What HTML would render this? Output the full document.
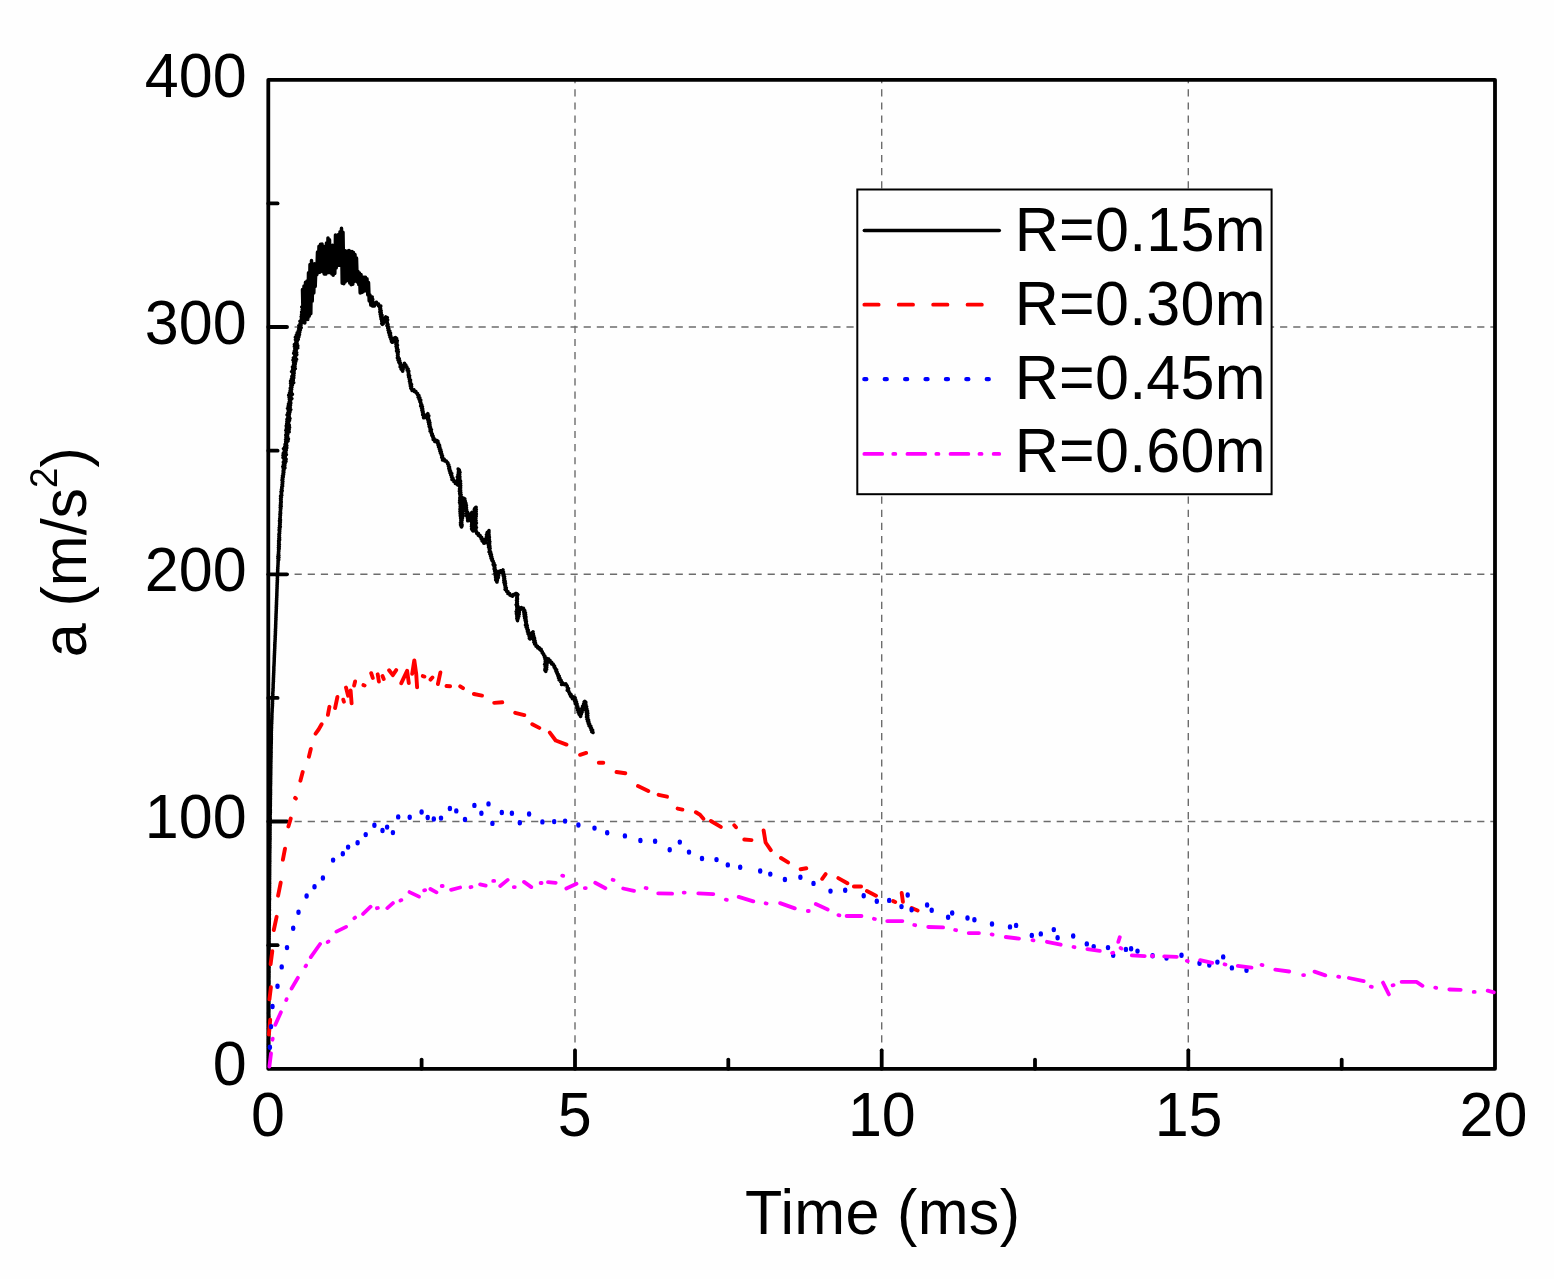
<!DOCTYPE html>
<html><head><meta charset="utf-8"><title>a vs Time</title>
<style>html,body{margin:0;padding:0;background:#fefefe;}svg{display:block;}</style>
</head><body>
<svg width="1554" height="1279" viewBox="0 0 1554 1279">
<rect width="1554" height="1279" fill="#fefefe"/>
<line x1="575.0" y1="1068.8" x2="575.0" y2="79.8" stroke="#6c6c6c" stroke-width="1.4" stroke-dasharray="7.2 5.94"/>
<line x1="881.7" y1="1068.8" x2="881.7" y2="79.8" stroke="#6c6c6c" stroke-width="1.4" stroke-dasharray="7.2 5.94"/>
<line x1="1188.3" y1="1068.8" x2="1188.3" y2="79.8" stroke="#6c6c6c" stroke-width="1.4" stroke-dasharray="7.2 5.94"/>
<line x1="268.3" y1="821.5" x2="1495.0" y2="821.5" stroke="#6c6c6c" stroke-width="1.4" stroke-dasharray="7.2 5.94"/>
<line x1="268.3" y1="574.3" x2="1495.0" y2="574.3" stroke="#6c6c6c" stroke-width="1.4" stroke-dasharray="7.2 5.94"/>
<line x1="268.3" y1="327.0" x2="1495.0" y2="327.0" stroke="#6c6c6c" stroke-width="1.4" stroke-dasharray="7.2 5.94"/>
<rect x="268.3" y="79.8" width="1226.7" height="989.0" fill="none" stroke="#000" stroke-width="3.8" stroke-linejoin="round"/>
<line x1="421.6" y1="1068.8" x2="421.6" y2="1059.6" stroke="#000" stroke-width="3.8" stroke-linecap="round"/>
<line x1="575.0" y1="1068.8" x2="575.0" y2="1050.3" stroke="#000" stroke-width="3.8" stroke-linecap="round"/>
<line x1="728.3" y1="1068.8" x2="728.3" y2="1059.6" stroke="#000" stroke-width="3.8" stroke-linecap="round"/>
<line x1="881.7" y1="1068.8" x2="881.7" y2="1050.3" stroke="#000" stroke-width="3.8" stroke-linecap="round"/>
<line x1="1035.0" y1="1068.8" x2="1035.0" y2="1059.6" stroke="#000" stroke-width="3.8" stroke-linecap="round"/>
<line x1="1188.3" y1="1068.8" x2="1188.3" y2="1050.3" stroke="#000" stroke-width="3.8" stroke-linecap="round"/>
<line x1="1341.7" y1="1068.8" x2="1341.7" y2="1059.6" stroke="#000" stroke-width="3.8" stroke-linecap="round"/>
<line x1="268.3" y1="945.2" x2="277.6" y2="945.2" stroke="#000" stroke-width="3.8" stroke-linecap="round"/>
<line x1="268.3" y1="821.5" x2="287.0" y2="821.5" stroke="#000" stroke-width="3.8" stroke-linecap="round"/>
<line x1="268.3" y1="697.9" x2="277.6" y2="697.9" stroke="#000" stroke-width="3.8" stroke-linecap="round"/>
<line x1="268.3" y1="574.3" x2="287.0" y2="574.3" stroke="#000" stroke-width="3.8" stroke-linecap="round"/>
<line x1="268.3" y1="450.7" x2="277.6" y2="450.7" stroke="#000" stroke-width="3.8" stroke-linecap="round"/>
<line x1="268.3" y1="327.0" x2="287.0" y2="327.0" stroke="#000" stroke-width="3.8" stroke-linecap="round"/>
<line x1="268.3" y1="203.4" x2="277.6" y2="203.4" stroke="#000" stroke-width="3.8" stroke-linecap="round"/>
<polyline points="268.5,1068.5 268.7,1067.4 268.5,1066.3 268.6,1065.2 268.5,1064.1 268.7,1063.0 268.6,1061.9 268.7,1060.7 268.6,1059.6 268.7,1058.5 268.6,1057.4 268.7,1056.3 268.6,1055.2 268.8,1054.1 268.6,1053.0 268.7,1051.9 268.6,1050.8 268.8,1049.7 268.6,1048.6 268.7,1047.5 268.5,1046.3 268.7,1045.2 268.5,1044.1 268.8,1043.0 268.6,1041.9 268.7,1040.8 268.6,1039.7 268.8,1038.6 268.7,1037.5 268.8,1036.4 268.6,1035.3 268.8,1034.2 268.6,1033.1 268.8,1032.0 268.7,1030.8 268.8,1029.7 268.6,1028.6 268.8,1027.5 268.7,1026.4 268.8,1025.3 268.7,1024.2 268.8,1023.1 268.6,1022.0 268.9,1020.9 268.7,1019.8 268.9,1018.7 268.7,1017.6 268.9,1016.4 268.7,1015.3 268.8,1014.2 268.6,1013.1 268.8,1012.0 268.7,1010.9 268.9,1009.8 268.8,1008.7 268.9,1007.6 268.8,1006.5 268.9,1005.4 268.7,1004.3 268.9,1003.2 268.7,1002.1 268.9,1000.9 268.7,999.8 268.9,998.7 268.7,997.6 268.9,996.5 268.7,995.4 269.0,994.3 268.8,993.2 269.0,992.1 268.8,991.0 269.0,989.9 268.8,988.8 269.0,987.7 268.7,986.5 268.9,985.4 268.8,984.3 269.0,983.2 268.9,982.1 269.0,981.0 268.8,979.9 268.9,978.8 268.9,977.7 269.0,976.6 268.9,975.5 269.0,974.4 268.8,973.3 269.1,972.1 268.9,971.0 269.0,969.9 268.8,968.8 269.1,967.7 268.8,966.6 269.1,965.5 268.9,964.4 269.0,963.3 268.9,962.2 269.1,961.1 268.8,960.0 269.0,958.9 268.9,957.8 269.0,956.6 268.9,955.5 269.1,954.4 268.9,953.3 269.1,952.2 269.0,951.1 269.1,950.0 268.9,948.9 269.1,947.8 268.9,946.7 269.1,945.6 269.0,944.4 269.2,943.3 269.0,942.2 269.1,941.1 268.9,940.0 269.2,938.9 269.0,937.8 269.2,936.7 269.0,935.6 269.2,934.4 269.1,933.3 269.2,932.2 269.1,931.1 269.2,930.0 269.1,928.9 269.2,927.8 269.1,926.7 269.2,925.6 269.2,924.4 269.3,923.3 269.2,922.2 269.3,921.1 269.2,920.0 269.4,918.9 269.2,917.8 269.3,916.7 269.2,915.6 269.4,914.4 269.2,913.3 269.3,912.2 269.2,911.1 269.5,910.0 269.2,908.9 269.4,907.8 269.3,906.7 269.4,905.6 269.3,904.4 269.4,903.3 269.3,902.2 269.4,901.1 269.4,900.0 269.6,898.9 269.3,897.8 269.5,896.7 269.3,895.6 269.5,894.4 269.4,893.3 269.6,892.2 269.3,891.1 269.6,890.0 269.4,888.9 269.6,887.8 269.5,886.7 269.6,885.6 269.4,884.4 269.7,883.3 269.5,882.2 269.6,881.1 269.4,880.0 269.7,878.9 269.4,877.8 269.7,876.7 269.5,875.6 269.7,874.4 269.6,873.3 269.7,872.2 269.6,871.1 269.7,870.0 269.6,868.9 269.7,867.8 269.6,866.7 269.8,865.6 269.5,864.4 269.8,863.3 269.6,862.2 269.9,861.1 269.6,860.0 269.8,858.9 269.7,857.8 269.8,856.7 269.7,855.6 269.8,854.4 269.7,853.3 269.9,852.2 269.7,851.1 269.9,850.0 269.7,848.9 270.0,847.8 269.8,846.7 270.0,845.6 269.7,844.4 270.0,843.3 269.8,842.2 270.0,841.1 269.9,840.0 270.1,838.9 269.9,837.8 270.1,836.7 269.8,835.6 270.1,834.4 269.9,833.3 270.1,832.2 269.9,831.1 270.1,830.0 270.0,828.9 270.1,827.8 269.9,826.7 270.2,825.6 270.0,824.4 270.2,823.3 270.0,822.2 270.2,821.1 270.1,820.0 270.3,818.9 270.1,817.8 270.2,816.7 270.0,815.6 270.3,814.4 270.1,813.3 270.4,812.2 270.2,811.1 270.4,810.0 270.1,808.9 270.3,807.8 270.2,806.7 270.4,805.6 270.3,804.4 270.4,803.3 270.3,802.2 270.4,801.1 270.3,800.0 270.5,798.9 270.3,797.8 270.5,796.7 270.3,795.6 270.6,794.4 270.4,793.3 270.6,792.2 270.4,791.1 270.6,790.0 270.4,788.9 270.5,787.8 270.4,786.7 270.6,785.6 270.5,784.4 270.7,783.3 270.5,782.2 270.7,781.1 270.5,780.0 270.7,778.9 270.6,777.8 270.7,776.7 270.6,775.6 270.8,774.5 270.7,773.3 270.8,772.2 270.7,771.1 270.8,770.0 270.7,768.9 270.9,767.8 270.7,766.7 270.9,765.6 270.7,764.5 270.9,763.4 270.8,762.3 271.0,761.2 270.8,760.0 271.0,758.9 270.9,757.8 271.1,756.7 270.9,755.6 271.1,754.5 270.9,753.4 271.2,752.3 270.9,751.2 271.1,750.1 271.0,749.0 271.2,747.9 271.0,746.7 271.2,745.6 271.1,744.5 271.3,743.4 271.2,742.3 271.3,741.2 271.2,740.1 271.4,739.0 271.1,737.9 271.4,736.8 271.2,735.7 271.4,734.5 271.2,733.4 271.4,732.3 271.2,731.2 271.5,730.1 271.3,729.0 271.6,727.9 271.4,726.8 271.6,725.7 271.4,724.5 271.8,723.4 271.6,722.3 271.8,721.2 271.7,720.1 271.9,719.0 271.8,717.9 272.0,716.8 271.8,715.7 272.0,714.6 271.9,713.4 272.1,712.3 272.1,711.2 272.2,710.1 272.1,709.0 272.3,707.9 272.3,706.8 272.5,705.7 272.3,704.6 272.6,703.5 272.4,702.3 272.6,701.2 272.5,700.1 272.7,699.0 272.6,697.9 272.7,696.8 272.7,695.7 272.9,694.6 272.7,693.4 272.9,692.3 272.9,691.2 273.1,690.1 272.9,689.0 273.2,687.9 273.1,686.8 273.2,685.7 273.1,684.6 273.3,683.5 273.2,682.4 273.5,681.3 273.3,680.2 273.5,679.1 273.4,678.0 273.6,676.9 273.5,675.8 273.7,674.7 273.6,673.6 273.8,672.5 273.7,671.4 273.9,670.3 273.8,669.2 273.9,668.1 273.8,667.0 274.0,665.9 274.0,664.8 274.1,663.7 274.1,662.5 274.2,661.5 274.2,660.3 274.3,659.2 274.2,658.1 274.4,657.0 274.3,655.9 274.5,654.8 274.4,653.7 274.6,652.6 274.5,651.5 274.7,650.4 274.6,649.3 274.8,648.2 274.7,647.1 274.9,646.0 274.7,644.9 275.0,643.8 274.8,642.7 275.1,641.6 275.0,640.5 275.2,639.4 275.1,638.3 275.3,637.2 275.1,636.1 275.4,635.0 275.3,633.9 275.5,632.8 275.3,631.7 275.6,630.6 275.4,629.5 275.6,628.4 275.6,627.2 275.7,626.1 275.6,625.0 275.8,623.9 275.7,622.8 275.8,621.7 275.8,620.6 276.0,619.5 275.8,618.4 276.1,617.3 275.9,616.2 276.1,615.1 276.0,614.0 276.2,612.9 276.1,611.7 276.3,610.6 276.2,609.5 276.4,608.4 276.2,607.3 276.5,606.2 276.3,605.1 276.6,604.0 276.4,602.9 276.6,601.8 276.5,600.7 276.7,599.6 276.6,598.5 276.8,597.4 276.7,596.2 276.9,595.1 276.8,594.0 276.9,592.9 276.9,591.8 277.0,590.7 276.9,589.6 277.1,588.5 277.0,587.4 277.2,586.3 277.0,585.2 277.3,584.1 277.1,583.0 277.4,581.9 277.2,580.7 277.5,579.6 277.3,578.5 277.5,577.4 277.3,576.3 277.6,575.2 277.4,574.1 277.7,573.0 277.6,571.9 277.8,570.8 277.6,569.7 277.9,568.6 277.7,567.5 278.0,566.4 277.9,565.3 278.1,564.2 278.0,563.1 278.2,562.0 278.0,560.9 278.7,559.8 277.9,558.6 278.9,557.6 277.9,556.4 278.9,555.4 278.2,554.2 278.7,553.2 278.4,552.0 278.9,551.0 278.5,549.8 279.2,548.8 278.4,547.6 279.3,546.6 278.5,545.4 279.4,544.4 278.6,543.2 279.2,542.1 278.6,541.0 279.6,539.9 278.8,538.8 279.6,537.7 278.9,536.6 279.5,535.5 278.9,534.4 279.7,533.3 279.3,532.2 279.8,531.1 279.1,530.0 279.9,528.9 279.2,527.7 280.3,526.7 279.5,525.5 280.2,524.4 279.6,523.2 280.4,522.1 279.5,521.0 280.5,519.9 279.7,518.7 280.3,517.6 280.0,516.5 280.5,515.4 279.9,514.2 280.7,513.1 280.1,512.0 280.6,510.9 280.4,509.7 280.9,508.6 280.2,507.5 281.2,506.4 280.3,505.2 281.1,504.1 280.5,503.0 281.3,501.9 280.6,500.7 281.2,499.6 280.5,498.5 281.4,497.4 280.6,496.2 281.8,495.2 281.2,494.0 281.7,492.9 281.0,491.7 282.2,490.6 281.4,489.4 282.1,488.3 281.7,487.1 282.6,486.1 282.0,484.8 282.7,483.8 282.2,482.6 282.9,481.5 282.0,480.2 282.9,479.2 282.3,478.0 283.3,476.9 282.5,475.7 283.6,474.6 283.0,473.4 283.9,472.3 283.1,471.1 284.0,470.0 283.3,468.9 284.9,467.9 282.8,466.6 284.8,465.6 283.5,464.4 285.1,463.4 283.4,462.1 286.0,461.3 284.1,460.0 286.1,459.0 283.0,457.6 285.3,456.7 283.0,455.4 286.4,454.6 283.3,453.2 285.9,452.3 284.3,451.0 286.3,450.1 283.5,448.6 286.8,447.9 284.8,446.5 286.8,445.5 285.1,444.2 286.5,443.2 285.7,441.9 288.0,441.0 285.6,439.6 288.4,438.8 286.0,437.3 287.6,436.4 285.8,435.0 287.8,434.1 286.3,432.8 289.2,431.9 285.8,430.4 289.2,429.6 286.4,428.1 289.6,427.3 286.2,425.9 289.3,425.0 286.7,423.7 288.7,422.7 286.9,421.5 289.5,420.6 287.0,419.3 290.0,418.4 287.9,417.1 289.2,416.1 287.1,414.9 289.5,413.9 287.9,412.7 290.0,411.8 288.4,410.5 290.8,409.6 287.5,408.3 290.2,407.4 288.2,406.1 290.5,405.2 288.5,403.9 290.8,403.0 289.3,401.8 290.6,400.7 289.4,399.5 291.9,398.6 289.1,397.3 291.1,396.4 288.7,395.1 292.4,394.2 289.5,392.9 291.3,391.9 290.2,390.5 291.6,389.5 290.3,388.2 291.9,387.2 290.8,385.8 292.4,384.8 290.6,383.4 293.7,382.6 290.6,381.0 293.3,380.1 291.5,378.7 293.8,377.8 291.9,376.4 293.9,375.5 292.7,374.1 294.1,373.1 291.6,371.6 294.2,370.7 292.7,369.3 295.3,368.5 292.5,366.9 295.0,366.1 293.6,364.8 295.3,363.8 293.6,362.5 295.8,361.5 293.0,360.1 296.6,359.3 293.4,357.8 295.6,356.9 294.8,355.7 296.8,354.7 293.7,353.3 296.7,352.4 294.4,351.0 296.2,350.0 294.9,348.8 297.8,347.9 294.4,346.5 297.8,345.7 294.4,344.3 297.1,343.4 295.9,342.2 297.1,341.2 295.5,339.7 298.3,339.2 295.4,337.2 298.9,336.8 296.4,335.0 299.5,334.5 297.3,332.7 299.8,332.1 298.4,330.6 300.4,329.8 298.8,328.2 301.2,327.5 298.9,325.7 301.0,325.0 300.1,323.6 301.5,322.7 300.0,321.2 302.6,320.6 301.3,319.0 302.4,318.1 301.2,316.7 303.4,315.7 301.6,314.3 303.2,313.3 301.7,311.9 303.2,310.8 302.3,309.5 304.1,308.5 301.8,307.0 303.5,306.0 302.5,289.5 303.2,322.4 304.0,286.0 304.8,323.0 305.5,282.3 306.2,318.8 307.0,280.9 307.8,319.4 308.5,272.8 309.2,316.3 310.0,264.5 310.8,313.8 311.5,260.5 312.2,301.1 313.0,265.0 313.8,293.0 314.5,263.7 315.2,286.5 316.0,265.1 316.8,274.8 317.5,252.1 318.2,272.7 319.0,246.3 319.8,272.2 320.5,244.3 321.2,270.7 322.0,243.9 322.8,271.8 323.5,246.3 324.2,274.0 325.0,248.2 325.8,274.1 326.5,242.9 327.2,272.6 328.0,237.9 328.8,272.6 329.5,239.7 330.2,271.2 331.0,245.8 331.8,274.0 332.5,245.2 333.2,275.3 334.0,247.4 334.8,273.4 335.5,234.9 336.2,268.0 337.0,235.4 337.8,265.3 338.5,234.6 339.2,265.3 340.0,231.7 340.8,264.3 341.5,228.2 342.2,283.3 343.0,232.3 343.8,283.8 344.5,250.5 345.2,281.9 346.0,251.3 346.8,279.4 347.5,251.2 348.2,280.6 349.0,250.4 349.8,283.1 350.5,251.4 351.2,284.7 352.0,251.5 352.8,284.3 353.5,252.5 354.2,281.5 355.0,254.6 355.8,280.3 356.5,258.0 357.2,282.0 358.0,271.4 358.8,284.6 359.5,273.1 360.2,292.9 361.0,274.4 361.8,292.4 362.5,276.9 363.2,291.7 364.0,277.3 364.8,289.3 365.5,277.3 366.2,291.0 367.0,278.8 367.8,294.9 368.5,282.5 369.2,301.0 370.0,295.1 370.8,305.1 372.2,297.0 371.1,298.3 372.7,299.3 371.8,300.6 373.0,301.7 372.1,303.0 373.0,304.1 372.6,305.3 372.3,306.0 374.4,306.0 374.1,304.0 376.1,303.9 376.4,302.2 376.9,303.5 378.5,303.9 378.4,305.8 380.8,306.1 379.6,307.4 380.6,308.4 379.9,309.7 381.1,310.7 379.9,312.0 381.2,313.0 380.3,314.3 382.0,315.2 380.7,316.6 382.3,317.5 381.1,318.9 382.3,319.9 381.7,321.1 382.7,322.1 381.7,323.5 382.4,324.4 383.4,323.5 383.0,322.0 384.5,321.4 384.5,320.0 385.4,319.1 385.2,317.7 385.8,316.9 387.3,317.8 385.8,319.1 387.6,320.0 386.6,321.3 387.3,322.3 387.0,323.4 388.0,324.4 387.0,325.7 388.3,326.6 387.7,327.9 388.8,328.8 388.1,330.2 389.7,331.0 388.7,332.5 390.5,333.2 389.4,334.8 390.7,335.6 390.0,337.1 391.5,337.9 390.9,339.3 392.2,340.1 391.5,341.6 392.2,342.3 393.5,341.7 393.6,340.3 394.9,339.6 394.7,337.9 395.5,337.5 396.6,338.5 395.8,339.7 397.3,340.7 396.0,341.9 397.0,343.0 396.0,344.2 397.5,345.2 396.1,346.5 397.3,347.5 396.6,348.7 398.0,349.7 396.6,351.0 398.3,351.9 397.4,353.1 398.1,354.2 397.5,355.4 398.2,356.4 397.4,357.9 399.2,358.6 398.1,360.1 399.7,360.9 398.9,362.4 400.5,363.1 400.0,364.5 401.4,365.3 400.2,366.9 401.6,367.7 401.1,369.1 402.7,369.9 402.7,371.3 402.2,370.0 403.2,369.0 402.9,367.8 403.8,366.8 403.1,365.5 404.6,364.7 404.5,363.2 404.6,364.5 405.8,365.1 405.4,366.6 406.9,367.0 406.9,368.4 408.1,369.0 407.3,370.3 408.8,371.2 408.2,372.5 408.8,373.5 408.3,374.8 409.6,375.7 408.6,377.0 409.6,378.0 409.3,379.2 410.5,380.1 409.5,381.5 410.6,382.4 410.0,383.7 411.5,384.6 410.4,385.9 411.6,386.9 410.8,388.2 411.7,388.8 412.1,390.5 414.0,389.8 414.4,391.6 415.9,391.6 416.1,392.8 417.6,393.5 417.5,394.8 418.9,395.6 418.1,397.2 419.8,397.8 419.1,399.4 420.7,400.1 419.9,401.6 420.9,402.5 420.7,403.7 421.7,404.7 420.7,406.0 422.4,406.8 421.6,408.2 422.7,409.1 421.9,410.4 423.1,411.3 422.5,412.6 423.4,413.5 422.7,414.8 424.3,415.6 423.5,417.0 423.6,417.7 425.5,417.4 425.1,415.3 426.9,415.1 427.8,413.7 426.9,415.1 428.8,415.9 427.7,417.3 428.6,418.3 427.8,419.7 429.3,420.6 428.3,422.0 429.9,422.8 428.8,424.2 430.0,425.2 429.2,426.5 430.5,427.5 430.0,428.8 431.4,429.7 430.1,431.1 431.4,432.0 431.2,433.3 432.3,434.0 431.8,435.4 433.1,436.1 432.8,437.4 433.8,438.2 433.2,439.6 435.1,440.1 434.8,441.6 435.8,440.3 436.7,440.5 437.9,441.3 437.2,442.6 438.6,443.4 438.0,444.7 439.5,445.4 438.6,446.8 439.9,447.6 439.3,448.9 440.7,449.7 439.9,451.0 441.3,451.8 440.5,453.2 441.8,454.0 441.4,455.2 442.5,456.0 441.7,457.4 442.8,458.2 442.5,460.0 444.3,459.3 444.8,461.0 446.3,460.9 446.8,462.0 447.9,462.8 447.7,464.0 448.8,464.9 448.4,466.2 449.5,467.1 448.8,468.5 449.9,469.3 449.4,470.6 450.6,471.5 450.0,472.8 451.7,473.5 450.8,474.9 451.9,475.8 451.5,477.1 452.8,477.9 452.0,479.6 453.7,479.9 453.7,481.6 455.8,481.5 455.4,483.5 457.3,483.5 457.8,485.0 456.7,483.8 458.2,482.8 457.0,481.5 458.8,480.5 457.7,479.3 458.9,478.2 457.4,476.9 458.6,475.9 458.0,474.7 459.3,473.6 458.4,472.4 459.6,471.4 458.5,470.1 458.2,469.0 459.3,470.1 458.6,471.3 460.0,472.3 458.9,473.5 459.7,474.6 458.8,475.7 459.9,476.8 459.3,477.9 459.9,479.0 459.3,480.2 460.5,481.2 459.1,482.4 460.6,483.5 459.6,484.6 460.7,485.7 459.7,486.9 460.6,487.9 459.5,489.1 460.6,490.2 459.4,491.3 460.8,492.4 459.7,493.6 461.1,494.6 460.1,495.8 461.3,496.9 459.8,498.0 460.9,499.1 459.7,500.3 460.9,501.3 459.6,502.5 461.2,503.6 460.2,504.7 461.4,505.8 460.2,506.9 461.0,508.0 460.0,509.2 461.0,510.3 460.0,511.4 461.2,512.5 460.2,513.6 461.8,514.7 460.3,515.9 461.6,516.9 460.6,518.1 461.2,519.2 460.8,520.3 461.3,521.4 460.5,522.6 461.6,523.6 460.6,524.8 462.0,525.9 461.5,527.0 461.0,525.8 462.1,524.8 461.4,523.6 461.8,522.6 461.3,521.4 462.1,520.3 461.6,519.1 462.5,518.1 461.6,516.9 463.0,515.9 462.1,514.7 463.2,513.7 462.2,512.4 463.1,511.4 462.1,510.2 463.4,509.2 462.9,508.0 463.5,506.9 462.8,505.7 464.3,504.8 462.9,503.5 464.2,502.5 463.5,501.3 464.2,500.3 463.4,499.0 463.6,498.1 464.8,499.0 464.0,500.3 465.3,501.2 464.1,502.5 465.9,503.4 465.0,504.6 466.4,505.5 465.6,506.8 466.5,507.8 465.7,509.0 466.7,510.0 466.3,511.2 467.5,512.1 466.7,513.4 467.7,514.3 466.5,515.7 467.8,516.6 467.4,517.8 468.5,518.7 467.6,520.0 467.7,520.8 469.4,520.1 468.8,518.7 469.8,517.8 469.4,516.5 470.4,515.6 469.8,514.1 471.6,513.5 472.0,512.2 471.2,513.3 472.2,514.4 470.8,515.6 472.1,516.6 470.9,517.8 472.2,518.8 471.4,520.0 472.1,521.0 471.5,522.2 472.2,523.2 471.6,524.4 472.8,525.4 471.5,526.6 473.0,527.6 471.6,528.8 472.7,529.9 473.0,531.1 472.1,529.8 473.4,528.8 472.3,527.5 473.3,526.5 472.5,525.3 474.1,524.3 473.1,523.0 474.4,522.0 473.5,520.8 474.2,519.7 473.6,518.5 474.8,517.5 473.4,516.2 475.1,515.2 474.1,513.9 475.5,513.0 474.4,511.7 475.3,510.6 474.3,509.4 475.9,508.4 476.1,507.2 474.8,508.3 476.3,509.5 474.9,510.6 476.2,511.7 474.8,512.9 476.3,514.0 475.0,515.1 476.2,516.3 474.9,517.4 475.9,518.5 475.2,519.7 476.1,520.8 475.3,521.9 476.4,523.1 475.3,524.2 475.8,525.3 475.3,526.5 476.4,527.6 475.2,528.7 475.9,529.9 475.4,531.1 476.6,531.8 476.7,533.4 478.5,533.5 478.3,535.4 480.2,535.5 480.3,537.0 481.6,537.5 481.3,539.0 482.9,539.3 482.2,541.1 484.1,541.2 483.8,542.7 483.8,543.3 485.7,542.7 484.4,541.1 485.8,540.4 485.6,539.1 486.5,538.2 486.4,537.0 487.7,536.2 486.5,534.7 488.2,534.0 487.2,532.5 488.9,531.9 489.0,530.6 488.4,531.7 489.0,532.8 488.0,534.0 489.1,535.0 488.5,536.2 489.4,537.2 488.8,538.4 489.4,539.5 488.7,540.6 489.8,541.7 488.7,542.8 489.6,543.9 488.4,545.1 489.9,546.1 488.6,547.3 490.1,548.3 489.3,549.5 490.0,550.6 489.1,551.9 490.7,552.5 489.9,554.0 491.4,554.6 490.6,556.1 491.8,556.9 491.1,558.3 492.4,559.0 491.9,560.4 493.2,561.1 493.2,562.3 494.0,563.2 493.2,564.5 494.9,565.4 494.0,566.6 494.9,567.6 494.1,568.9 495.5,569.8 494.6,571.0 495.6,572.0 494.9,573.3 496.2,574.2 495.3,575.5 496.7,576.4 495.6,577.7 496.5,578.6 495.7,579.9 497.1,580.8 497.0,582.1 496.3,580.7 497.4,579.8 496.7,578.5 498.3,577.6 497.1,576.2 498.7,575.4 497.9,574.1 499.0,573.1 498.6,571.5 500.2,572.1 500.7,570.7 502.2,571.1 503.0,569.9 502.6,571.1 503.5,572.1 502.5,573.4 504.0,574.4 503.2,575.6 504.6,576.6 503.7,577.9 504.7,578.9 503.8,580.2 505.2,581.1 504.0,582.5 505.5,583.4 504.6,584.7 505.6,585.7 505.1,586.9 506.3,587.9 505.1,589.3 506.4,589.8 506.5,591.4 508.0,591.8 507.9,593.6 509.7,593.6 509.9,595.1 510.8,595.4 512.5,596.2 513.3,594.6 514.8,594.8 515.7,593.6 516.4,593.5 517.9,594.6 516.8,595.8 517.4,596.9 516.7,598.0 517.5,599.1 516.5,600.3 517.4,601.4 516.7,602.5 517.4,603.7 516.2,604.8 517.8,605.9 516.8,607.0 518.0,608.2 516.8,609.3 517.6,610.4 516.2,611.6 517.9,612.7 516.4,613.8 517.6,615.0 516.8,616.1 517.7,617.2 516.8,618.3 517.4,619.5 517.5,620.7 517.2,619.5 518.1,618.5 517.1,617.2 518.8,616.4 517.8,615.0 519.2,614.2 518.3,612.8 519.4,611.9 518.8,610.6 520.1,609.8 519.2,608.4 519.7,608.2 521.3,607.6 521.9,609.0 523.5,608.4 523.7,609.6 524.7,610.5 523.8,611.8 525.4,612.7 524.0,614.0 525.6,614.9 524.3,616.2 525.9,617.1 524.7,618.3 526.0,619.3 525.2,620.5 526.4,621.4 525.7,622.6 526.5,623.6 525.5,625.0 527.2,625.7 526.2,627.2 527.5,628.0 527.0,629.3 528.3,630.2 527.5,631.6 528.9,632.4 528.1,633.8 529.9,634.5 529.1,635.9 530.3,636.7 529.3,638.2 529.9,639.0 531.1,638.1 530.1,636.5 531.5,635.6 531.1,634.2 532.3,633.3 533.0,631.8 531.7,633.3 533.4,634.1 532.8,635.4 533.9,636.3 533.0,637.6 534.5,638.4 533.6,639.8 535.0,640.7 533.9,642.1 535.4,642.9 534.7,644.2 536.0,644.6 536.0,646.2 537.6,646.3 537.7,647.9 539.4,647.8 539.6,649.3 541.2,649.3 541.1,650.9 542.3,651.7 542.3,653.0 543.6,653.7 543.6,655.1 544.8,655.9 544.5,657.4 546.2,658.3 545.1,659.5 545.9,660.7 545.2,661.9 546.2,663.1 544.6,664.3 546.1,665.4 545.2,666.6 546.3,667.8 545.0,669.0 545.8,670.2 545.8,671.4 544.9,670.2 546.6,669.3 545.4,668.0 546.7,667.1 545.8,665.8 546.9,664.9 545.9,663.6 547.3,662.7 546.4,661.5 548.0,660.6 546.7,659.3 547.2,658.6 548.7,658.9 548.7,660.4 550.1,660.6 550.1,662.2 551.7,662.2 551.6,663.9 553.2,663.9 553.3,665.2 554.5,665.9 554.2,667.3 555.3,668.0 555.3,669.2 556.6,669.9 556.0,671.4 557.2,672.2 556.9,673.5 558.2,674.2 557.8,675.6 559.2,676.2 558.5,677.8 560.0,678.4 559.2,680.0 561.2,680.4 560.7,681.8 562.1,682.4 561.6,684.6 563.2,683.3 564.3,684.6 565.8,683.8 566.3,684.9 567.3,686.1 567.2,687.4 568.5,688.5 567.3,690.3 568.7,690.8 568.7,692.1 569.7,692.9 569.6,694.2 571.1,694.7 570.6,696.2 571.7,696.9 572.4,698.7 572.6,696.8 573.7,697.0 575.1,697.7 574.1,699.2 575.7,699.9 574.7,701.4 576.5,702.0 575.3,703.6 577.1,704.2 576.4,705.6 577.7,706.4 576.9,707.8 578.4,708.5 577.6,710.0 579.2,710.7 578.2,712.2 579.4,713.0 579.1,714.2 580.0,715.1 580.6,716.5 580.3,715.2 581.3,714.3 580.9,713.0 582.1,712.2 581.4,710.7 582.8,710.0 581.9,708.5 583.2,707.7 582.6,706.3 584.2,705.7 583.6,704.2 585.1,703.6 584.1,702.0 584.8,701.3 585.8,702.2 584.7,703.6 585.9,704.5 585.2,705.8 586.6,706.7 585.9,707.9 586.9,708.9 585.8,710.2 587.5,711.1 586.4,712.4 587.8,713.3 586.6,714.7 587.8,715.6 586.6,716.9 587.8,717.9 587.0,719.2 588.5,720.1 587.6,721.3 588.9,722.1 588.3,723.6 589.6,724.2 589.1,725.7 590.8,726.1 590.3,727.6 591.5,728.2 591.1,729.7 592.6,730.2 591.8,731.8 593.0,732.5" fill="none" stroke-linecap="round" stroke-linejoin="round" stroke="#000" stroke-width="3.5"/>
<path d="M268.9 1034.6L270.2 1019.8M269.4 999.4L270.9 987.2M270.6 964.2L272.3 951.1M273.8 930.0L276.6 916.8M278.1 895.7L280.7 882.6M282.9 859.7L285.0 848.6M288.4 826.5L290.7 818.6M295.1 797.9L295.9 798.5M300.4 780.7L302.7 772.1M308.9 756.7L310.8 749.0M315.6 733.7L318.6 729.5L321.6 724.2M327.9 714.8L329.4 706.8M335.1 708.0L337.4 697.0M343.3 699.7L343.9 701.7M346.0 687.6L348.1 695.7L350.6 690.5L351.6 703.4M354.1 685.6L355.1 681.5M363.4 685.1L364.6 685.5M371.2 673.2L372.8 678.0M377.7 674.3L378.9 681.5M382.5 676.0L383.7 679.0M389.1 670.3L392.8 675.1L396.2 670.1M401.3 683.2L407.1 670.8L408.8 683.0M412.2 673.8L414.3 660.4L416.2 673.7L417.1 687.4M422.8 676.1L424.4 676.6M430.5 679.6L432.4 677.5M440.4 672.4L437.9 684.0M446.5 686.0L450.1 686.3M460.2 686.3L463.0 688.2M473.9 694.0L482.0 695.6M494.2 702.9L502.3 702.3M515.2 712.8L524.3 715.1M532.3 724.2L539.3 727.9M549.8 732.6L555.7 740.5L566.5 744.6M580.1 754.8L586.1 752.9M598.8 762.8L603.3 762.8M616.5 772.0L625.3 773.3M638.0 786.0L648.3 790.9M658.6 794.8L667.0 796.7M677.6 808.6L682.4 809.6M695.9 812.3L700.0 814.7L703.4 818.7M710.9 821.0L720.8 826.9M734.3 825.3L736.0 827.2M744.3 839.5L751.5 840.1M763.6 830.4L765.6 842.5L770.8 850.2M781.0 858.0L788.1 862.4M800.6 869.2L806.3 868.3M822.2 878.8L825.6 874.1M838.3 878.1L847.4 883.3M853.9 886.5L861.1 886.5M866.9 891.1L876.0 895.7M893.2 901.1L895.2 902.0M901.7 892.9L902.9 901.7M911.7 908.0L917.6 910.5" fill="none" stroke-linecap="round" stroke-linejoin="round" stroke="#ff0000" stroke-width="3.9"/>
<path d="M269.9 1046.8L269.9 1047.8M271.0 1026.1L271.0 1027.0M272.5 1006.0L272.5 1007.0M277.5 985.8L277.5 986.8M281.7 966.4L281.7 967.4M287.0 947.1L287.0 948.1M293.2 927.8L293.2 928.7M298.5 911.8L298.5 912.7M306.6 895.5L306.6 896.5M314.5 886.2L314.5 887.2M322.9 877.5L322.9 878.5M333.1 859.6L333.1 860.6M342.8 853.2L342.8 854.2M348.1 846.6L348.1 847.6M357.6 842.2L357.6 843.2M365.7 834.1L365.7 835.1M374.4 824.8L374.4 825.8M382.5 830.0L382.5 831.0M387.1 826.6L387.1 827.6M392.9 832.1L392.9 833.1M398.2 816.4L398.2 817.4M409.7 816.8L409.7 817.7M421.6 811.5L421.6 812.5M427.7 817.0L427.7 818.0M433.8 818.5L433.8 819.5M441.0 817.6L441.0 818.6M449.9 808.0L449.9 809.0M456.3 810.4L456.3 811.4M465.0 819.0L465.0 820.0M474.4 804.9L474.4 805.9M481.4 812.8L481.4 813.8M488.5 803.4L488.5 804.4M492.4 822.9L492.4 823.9M501.8 812.0L501.8 813.0M511.9 812.8L511.9 813.8M519.8 822.2L519.8 823.2M529.1 813.5L529.1 814.5M542.4 821.4L542.4 822.4M554.2 821.1L554.2 822.1M565.1 820.6L565.1 821.6M578.4 824.5L578.4 825.5M594.5 827.6L594.5 828.6M607.2 832.3L607.2 833.2M624.9 835.4L624.9 836.4M640.4 840.0L640.4 841.0M655.1 840.8L655.1 841.8M669.7 849.3L669.7 850.2M679.8 841.6L679.8 842.6M689.0 851.6L689.0 852.6M702.0 858.0L702.0 859.0M716.5 859.1L716.5 860.1M727.8 864.4L727.8 865.4M740.2 866.8L740.2 867.7M760.2 870.5L760.2 871.5M770.3 873.6L770.3 874.6M784.9 879.0L784.9 880.0M800.4 876.8L800.4 877.7M813.5 882.9L813.5 883.9M830.5 890.6L830.5 891.6M845.2 889.8L845.2 890.8M863.7 895.3L863.7 896.2M876.8 900.8L876.8 901.7M889.2 899.9L889.2 900.9M901.5 906.1L901.5 907.1M907.7 894.5L907.7 895.5M911.6 909.2L911.6 910.2M927.1 904.5L927.1 905.5M931.7 909.8L931.7 910.7M948.1 916.8L948.1 917.8M952.2 912.5L952.2 913.5M967.5 917.5L967.5 918.5M974.4 919.2L974.4 920.2M992.0 923.5L992.0 924.5M1010.0 926.4L1010.0 927.4M1016.1 924.9L1016.1 925.9M1031.8 934.9L1031.8 935.9M1040.8 933.4L1040.8 934.4M1053.8 929.1L1053.8 930.1M1057.6 937.2L1057.6 938.2M1073.2 935.5L1073.2 936.5M1086.8 943.4L1086.8 944.4M1093.7 946.1L1093.7 947.1M1108.0 947.1L1108.0 948.1M1113.2 954.8L1113.2 955.7M1125.9 948.9L1125.9 949.9M1131.1 948.3L1131.1 949.2M1137.5 950.6L1137.5 951.6M1152.6 955.3L1152.6 956.2M1166.5 957.6L1166.5 958.6M1181.5 954.8L1181.5 955.7M1199.5 962.8L1199.5 963.8M1209.3 964.5L1209.3 965.5M1217.4 961.6L1217.4 962.6M1223.2 956.4L1223.2 957.4M1231.9 967.4L1231.9 968.4M1246.5 969.8L1246.5 970.7" fill="none" stroke-linecap="round" stroke-linejoin="round" stroke="#0000ff" stroke-width="4.4"/>
<path d="M269.4 1066.5L271.0 1053.4M272.5 1039.7L272.7 1038.7M275.3 1024.7L280.9 1012.2M286.2 1000.1L286.6 999.1M291.6 988.5L297.9 977.8M305.5 966.3L306.1 965.5M310.8 957.1L320.1 944.0M327.7 942.1L328.5 941.5M336.4 931.6L346.1 926.9M354.3 918.2L355.1 917.6M363.1 913.9L370.6 906.7M376.9 908.2L377.9 908.0M387.3 908.1L392.9 903.1M400.4 900.5L401.4 900.1M409.5 892.1L419.0 896.6M424.2 890.3L425.2 890.1M430.4 889.0L436.5 892.3M441.7 886.0L442.7 886.0M451.1 889.8L460.1 887.5M470.5 887.2L471.5 887.0M480.1 884.4L485.7 885.6M493.2 880.9L494.2 880.9M500.2 886.0L507.7 879.9M513.8 887.1L514.8 887.1M524.0 881.9L531.3 887.1M540.6 883.0L541.6 883.0M548.0 882.1L555.7 882.8M562.2 875.6L563.2 875.8M566.3 888.4L576.5 883.7M584.8 888.1L585.8 888.1M595.2 882.8L605.4 888.2M612.6 879.8L613.6 880.0M623.2 888.5L634.0 890.8M645.6 888.0L646.6 888.2M658.2 893.3L672.1 893.6M683.7 892.6L684.7 892.6M698.3 893.3L713.3 894.2M725.8 899.6L726.8 899.8M738.7 896.9L753.3 901.4M765.6 903.3L766.6 903.5M780.1 903.1L794.8 908.4M807.8 911.0L808.8 911.0M815.8 904.0L827.7 909.4M838.4 915.1L839.4 915.3M846.6 916.0L861.5 916.0M873.9 918.8L874.9 919.0M887.2 921.1L902.4 921.1M914.2 925.0L915.2 925.2M928.2 927.0L943.1 927.4M955.1 930.0L956.1 930.2M968.7 933.1L979.0 933.1M991.6 934.4L992.6 934.6M1005.8 937.0L1019.0 938.6M1032.5 940.2L1033.5 940.4M1046.9 941.8L1060.7 944.7M1073.5 947.0L1074.5 947.2M1087.4 949.1L1099.8 950.9M1112.1 953.1L1113.1 952.7M1118.3 941.9L1119.8 937.2M1120.6 947.9L1121.4 948.5M1131.8 955.3L1144.7 956.2M1152.0 956.0L1153.0 956.0M1164.2 956.4L1176.8 956.8M1186.8 960.9L1187.8 961.1M1200.1 960.2L1212.2 962.9M1224.5 964.3L1225.5 964.5M1237.8 965.8L1251.5 967.7M1261.5 964.9L1262.5 965.1M1275.3 969.6L1289.2 971.5M1303.1 975.1L1304.1 975.1M1314.5 971.6L1325.3 975.4M1338.2 976.7L1339.2 976.9M1348.9 978.0L1363.7 981.1M1370.8 986.7L1371.8 986.9M1383.0 982.6L1388.9 994.4M1392.6 985.3L1393.6 985.1M1401.6 981.8L1416.5 981.8L1422.5 985.8M1435.2 987.6L1436.2 987.8M1449.3 989.5L1460.7 989.8M1473.7 991.9L1474.7 991.9M1487.7 990.7L1493.8 992.4" fill="none" stroke-linecap="round" stroke-linejoin="round" stroke="#ff00ff" stroke-width="3.8"/>
<text transform="translate(246.60,96.80) scale(1,1.04)" x="0" y="0" text-anchor="end" font-size="61" font-family="'Liberation Sans', Arial, sans-serif" fill="#000">400</text>
<text transform="translate(246.60,343.60) scale(1,1.04)" x="0" y="0" text-anchor="end" font-size="61" font-family="'Liberation Sans', Arial, sans-serif" fill="#000">300</text>
<text transform="translate(246.60,591.10) scale(1,1.04)" x="0" y="0" text-anchor="end" font-size="61" font-family="'Liberation Sans', Arial, sans-serif" fill="#000">200</text>
<text transform="translate(246.60,838.40) scale(1,1.04)" x="0" y="0" text-anchor="end" font-size="61" font-family="'Liberation Sans', Arial, sans-serif" fill="#000">100</text>
<text transform="translate(246.60,1084.50) scale(1,1.04)" x="0" y="0" text-anchor="end" font-size="61" font-family="'Liberation Sans', Arial, sans-serif" fill="#000">0</text>
<text transform="translate(268.00,1135.60) scale(1,1.04)" x="0" y="0" text-anchor="middle" font-size="61" font-family="'Liberation Sans', Arial, sans-serif" fill="#000">0</text>
<text transform="translate(574.68,1135.60) scale(1,1.04)" x="0" y="0" text-anchor="middle" font-size="61" font-family="'Liberation Sans', Arial, sans-serif" fill="#000">5</text>
<text transform="translate(881.85,1135.60) scale(1,1.04)" x="0" y="0" text-anchor="middle" font-size="61" font-family="'Liberation Sans', Arial, sans-serif" fill="#000">10</text>
<text transform="translate(1188.62,1135.60) scale(1,1.04)" x="0" y="0" text-anchor="middle" font-size="61" font-family="'Liberation Sans', Arial, sans-serif" fill="#000">15</text>
<text transform="translate(1493.50,1135.60) scale(1,1.04)" x="0" y="0" text-anchor="middle" font-size="61" font-family="'Liberation Sans', Arial, sans-serif" fill="#000">20</text>
<text transform="translate(745.10,1233.80) scale(1,1.04)" x="0" y="0" text-anchor="start" font-size="61" font-family="'Liberation Sans', Arial, sans-serif" fill="#000" letter-spacing="0.35">Time (ms)</text>
<text transform="translate(86.0,657.3) rotate(-90) scale(1,1.04)" x="0" y="0" font-size="61" font-family="'Liberation Sans', Arial, sans-serif" fill="#000">a (m/s<tspan font-size="36.7" dy="-28">2</tspan><tspan dy="28">)</tspan></text>
<rect x="857.3" y="189.5" width="414.3" height="304.7" fill="#fefefe" stroke="#000" stroke-width="2"/>
<line x1="864.3" y1="230.6" x2="999.3" y2="230.6" fill="none" stroke-linecap="round" stroke-linejoin="round" stroke="#000" stroke-width="3.5" />
<text transform="translate(1014.80,250.80) scale(1,1.04)" x="0" y="0" text-anchor="start" font-size="61" font-family="'Liberation Sans', Arial, sans-serif" fill="#000" letter-spacing="0.25">R=0.15m</text>
<line x1="864.3" y1="304.7" x2="999.3" y2="304.7" fill="none" stroke-linecap="round" stroke-linejoin="round" stroke="#ff0000" stroke-width="3.7" stroke-dasharray="14.4 20"/>
<text transform="translate(1014.80,324.70) scale(1,1.04)" x="0" y="0" text-anchor="start" font-size="61" font-family="'Liberation Sans', Arial, sans-serif" fill="#000" letter-spacing="0.25">R=0.30m</text>
<line x1="864.3" y1="379.2" x2="999.3" y2="379.2" fill="none" stroke-linecap="round" stroke-linejoin="round" stroke="#0000ff" stroke-width="4.2" stroke-dasharray="2.1 18.3"/>
<text transform="translate(1014.80,398.50) scale(1,1.04)" x="0" y="0" text-anchor="start" font-size="61" font-family="'Liberation Sans', Arial, sans-serif" fill="#000" letter-spacing="0.25">R=0.45m</text>
<line x1="864.3" y1="453.9" x2="999.3" y2="453.9" fill="none" stroke-linecap="round" stroke-linejoin="round" stroke="#ff00ff" stroke-width="3.7" stroke-dasharray="17.9 11 2.2 12"/>
<text transform="translate(1014.80,472.40) scale(1,1.04)" x="0" y="0" text-anchor="start" font-size="61" font-family="'Liberation Sans', Arial, sans-serif" fill="#000" letter-spacing="0.25">R=0.60m</text>
</svg>
</body></html>
